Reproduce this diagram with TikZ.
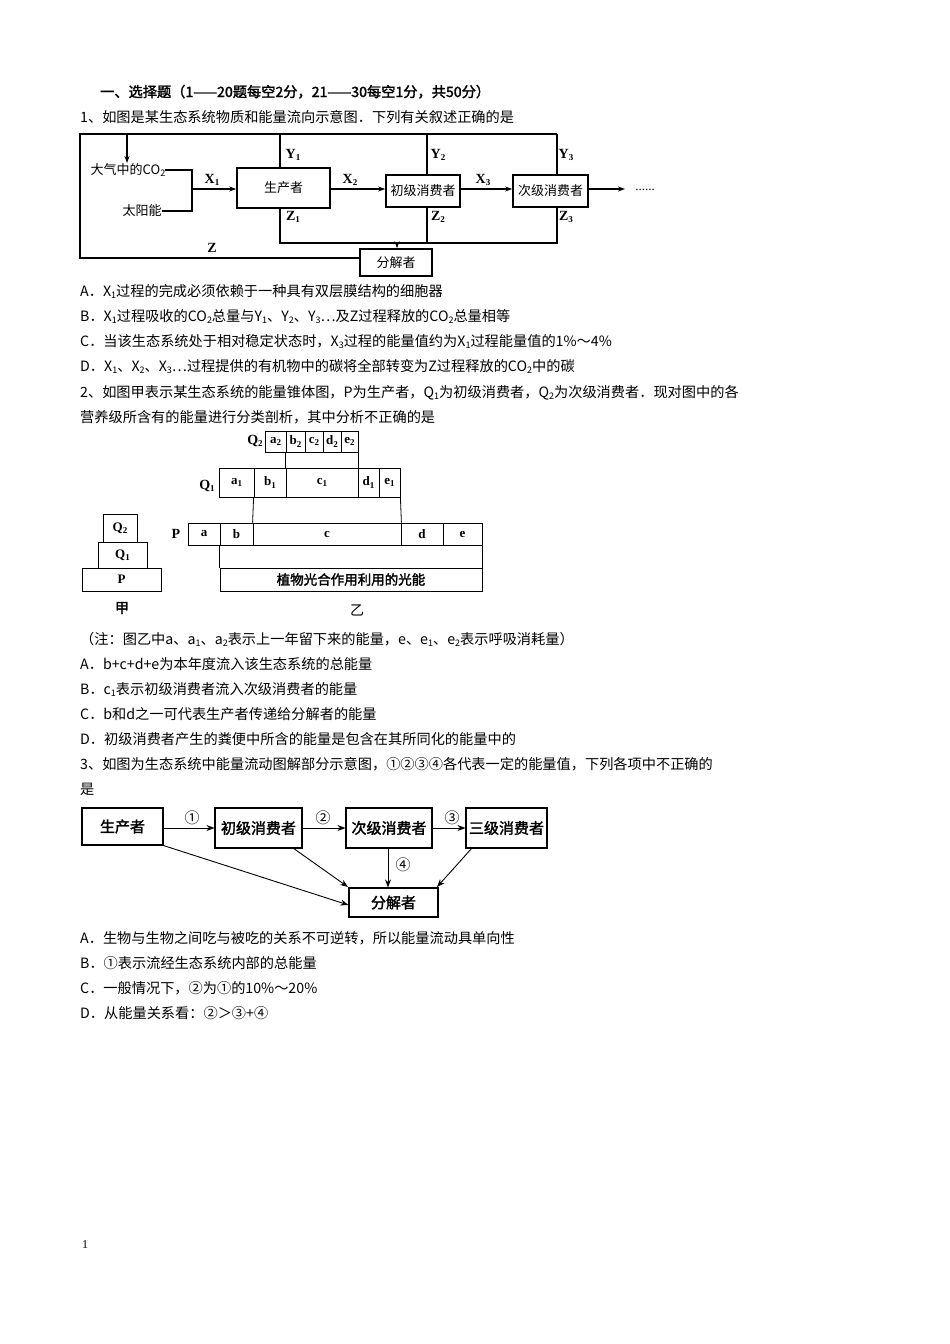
\documentclass[tikz,border=0pt]{standalone}
\usepackage{fontspec}
\usetikzlibrary{arrows.meta}
\setmainfont{Liberation Serif}
\newfontfamily\cjk[AutoFakeBold=2]{Noto Sans CJK SC}
\newcommand\mysub[1]{\raisebox{-0.35ex}{\fontsize{9}{9}\selectfont #1}}
\tikzset{
 txt/.style={anchor=base west,inner sep=0pt,font=\cjk\fontsize{14.2}{16}\selectfont},
 box/.style={draw,line width=1.6pt,inner sep=0pt},
 cell/.style={draw,line width=0.8pt,inner sep=0pt,font=\bfseries\fontsize{13}{13}\selectfont},
 lab/.style={font=\bfseries\fontsize{14}{14}\selectfont,inner sep=0pt},
 ln/.style={line width=1.3pt},
 arr/.style={line width=1.3pt,-{Stealth[length=7pt,width=5pt]}},
 arr3/.style={line width=0.9pt,-{Stealth[length=8pt,width=6pt]}},
 box3/.style={draw,line width=1.1pt,inner sep=0pt,font=\cjk\bfseries\fontsize{15}{15}\selectfont}
}
\begin{document}
\begin{tikzpicture}[x=1pt,y=-1pt]
\useasboundingbox (0,0) rectangle (950,1344);
\fill[white] (0,0) rectangle (950,1344);
\node[txt,font=\cjk\bfseries\fontsize{14.2}{16}\selectfont] (t0) at (100,97) {一、选择题（1——20题每空2分，21——30每空1分，共50分）};
\node[txt] (t1) at (80,122) {1、如图是某生态系统物质和能量流向示意图．下列有关叙述正确的是};
\node[txt] (t2) at (80,296) {A．X\mysub{1}过程的完成必须依赖于一种具有双层膜结构的细胞器};
\node[txt] (t3) at (80,321) {B．X\mysub{1}过程吸收的CO\mysub{2}总量与Y\mysub{1}、Y\mysub{2}、Y\mysub{3}…及Z过程释放的CO\mysub{2}总量相等};
\node[txt] (t4) at (80,346) {C．当该生态系统处于相对稳定状态时，X\mysub{3}过程的能量值约为X\mysub{1}过程能量值的1\%～4\%};
\node[txt] (t5) at (80,371) {D．X\mysub{1}、X\mysub{2}、X\mysub{3}…过程提供的有机物中的碳将全部转变为Z过程释放的CO\mysub{2}中的碳};
\node[txt] (t6) at (80,397) {2、如图甲表示某生态系统的能量锥体图，P为生产者，Q\mysub{1}为初级消费者，Q\mysub{2}为次级消费者．现对图中的各};
\node[txt] (t7) at (80,422) {营养级所含有的能量进行分类剖析，其中分析不正确的是};
\node[txt] (t8) at (80,644) {（注：图乙中a、a\mysub{1}、a\mysub{2}表示上一年留下来的能量，e、e\mysub{1}、e\mysub{2}表示呼吸消耗量）};
\node[txt] (t9) at (80,669) {A．b+c+d+e为本年度流入该生态系统的总能量};
\node[txt] (t10) at (80,694) {B．c\mysub{1}表示初级消费者流入次级消费者的能量};
\node[txt] (t11) at (80,719) {C．b和d之一可代表生产者传递给分解者的能量};
\node[txt] (t12) at (80,744) {D．初级消费者产生的粪便中所含的能量是包含在其所同化的能量中的};
\node[txt] (t13) at (80,769) {3、如图为生态系统中能量流动图解部分示意图，①②③④各代表一定的能量值，下列各项中不正确的};
\node[txt] (t14) at (80,794) {是};
\node[txt] (t15) at (80,943) {A．生物与生物之间吃与被吃的关系不可逆转，所以能量流动具单向性};
\node[txt] (t16) at (80,968) {B．①表示流经生态系统内部的总能量};
\node[txt] (t17) at (80,993) {C．一般情况下，②为①的10\%～20\%};
\node[txt] (t18) at (80,1018) {D．从能量关系看：②＞③+④};
\node[txt,font=\fontsize{12}{12}\selectfont] (pg) at (82,1248) {1};
\node[box,minimum width=93pt,minimum height=40pt,font=\cjk\fontsize{13}{13}\selectfont] (p) at (283.5,188) {生产者};
\node[box,minimum width=74pt,minimum height=32pt,font=\cjk\fontsize{13}{13}\selectfont] (c1) at (423,191) {初级消费者};
\node[box,minimum width=75pt,minimum height=32pt,font=\cjk\fontsize{13}{13}\selectfont] (c2) at (550.5,191) {次级消费者};
\node[box,minimum width=72pt,minimum height=27pt,font=\cjk\fontsize{13}{13}\selectfont] (dc) at (396,262.5) {分解者};
\node[inner sep=0pt,font=\cjk\fontsize{13}{13}\selectfont] (co2) at (128,170) {大气中的CO\mysub{2}};
\node[inner sep=0pt,font=\cjk\fontsize{13}{13}\selectfont] (sun) at (142,211) {太阳能};
\node[inner sep=0pt,font=\fontsize{13}{13}\selectfont] (dots) at (645,190) {......};
\coordinate (top) at (80,134);
\draw[ln] (dc.west|-0,258) -- (80,258) -- (top) -- (557,134);
\draw[arr] (127,134) -- (co2.north-|127,0);
\draw[ln] (co2.east) -- (192,170) -- (192,211) -- (sun.east);
\draw[arr] (192,189) -- (p.west|-0,189);
\draw[arr] (p.east|-0,189) -- (c1.west|-0,189);
\draw[arr] (c1.east|-0,189) -- (c2.west|-0,189);
\draw[arr] (c2.east|-0,189) -- (625,189);
\draw[ln] (280,134) -- (p.north-|280,0);
\draw[ln] (427,134) -- (c1.north-|427,0);
\draw[ln] (557,134) -- (c2.north-|557,0);
\draw[ln] (p.south-|280,0) -- (280,243) -- (557,243) -- (c2.south-|557,0);
\draw[ln] (427,243) -- (c1.south-|427,0);
\draw[arr] (397,243) -- (dc.north-|397,0);
\node[lab] (x1) at (212,180) {X\mysub{1}};
\node[lab] (x2) at (350,180) {X\mysub{2}};
\node[lab] (x3) at (483,180) {X\mysub{3}};
\node[lab] (y1) at (293,155) {Y\mysub{1}};
\node[lab] (y2) at (438,155) {Y\mysub{2}};
\node[lab] (y3) at (566,155) {Y\mysub{3}};
\node[lab] (z1) at (293,217) {Z\mysub{1}};
\node[lab] (z2) at (438,217) {Z\mysub{2}};
\node[lab] (z3) at (566,217) {Z\mysub{3}};
\node[lab] (z) at (212,248) {Z};
\node[cell,minimum width=34pt,minimum height=28pt] (jq2) at (120,528) {Q\mysub{2}};
\node[cell,minimum width=49pt,minimum height=26pt] (jq1) at (122.5,555) {Q\mysub{1}};
\node[cell,minimum width=79pt,minimum height=23pt] (jp) at (121.5,579.5) {P};
\node[inner sep=0pt,font=\cjk\bfseries\fontsize{14}{14}\selectfont] (jia) at (122,608) {甲};
\node[cell,minimum width=21pt,minimum height=21pt] (qq1) at (275.5,441.5) {a\mysub{2}};
\node[cell,minimum width=19pt,minimum height=21pt] (qq2) at (295.5,441.5) {b\mysub{2}};
\node[cell,minimum width=18pt,minimum height=21pt] (qq3) at (314,441.5) {c\mysub{2}};
\node[cell,minimum width=18pt,minimum height=21pt] (qq4) at (332,441.5) {d\mysub{2}};
\node[cell,minimum width=17pt,minimum height=21pt] (qq5) at (349.5,441.5) {e\mysub{2}};
\node[cell,minimum width=35pt,minimum height=29pt] (qa1) at (236.5,482.5) {a\mysub{1}};
\node[cell,minimum width=32pt,minimum height=29pt] (qa2) at (270,482.5) {b\mysub{1}};
\node[cell,minimum width=72pt,minimum height=29pt] (qa3) at (322,482.5) {c\mysub{1}};
\node[cell,minimum width=21pt,minimum height=29pt] (qa4) at (368.5,482.5) {d\mysub{1}};
\node[cell,minimum width=21pt,minimum height=29pt] (qa5) at (389.5,482.5) {e\mysub{1}};
\node[cell,minimum width=32pt,minimum height=22pt] (pp1) at (204,534) {a};
\node[cell,minimum width=33pt,minimum height=22pt] (pp2) at (236.5,534) {b};
\node[cell,minimum width=148pt,minimum height=22pt] (pp3) at (327,534) {c};
\node[cell,minimum width=42pt,minimum height=22pt] (pp4) at (422,534) {d};
\node[cell,minimum width=39pt,minimum height=22pt] (pp5) at (462.5,534) {e};
\node[cell,minimum width=262pt,minimum height=23pt,font=\cjk\bfseries\fontsize{13.5}{13.5}\selectfont] (light) at (351,579.5) {植物光合作用利用的光能};
\draw[line width=0.8pt] (pp2.south west) -- (light.north west);
\draw[line width=0.8pt] (pp5.south east) -- (light.north east);
\draw[line width=0.8pt] (qq2.south west) -- (qa3.north west);
\draw[line width=0.8pt] (qq5.south east) -- (qa3.north east);
\draw[line width=0.8pt] (qa2.south west) -- (pp3.north west);
\draw[line width=0.8pt] (qa5.south east) -- (pp3.north east);
\node[lab] (lq2) at (255,441) {Q\mysub{2}};
\node[lab] (lq1) at (207,486) {Q\mysub{1}};
\node[lab] (lp) at (176,534) {P};
\node[inner sep=0pt,font=\cjk\fontsize{14}{14}\selectfont] (yi) at (357,610) {乙};
\node[box3,minimum width=81pt,minimum height=37pt] (a) at (122.5,826.5) {生产者};
\node[box3,minimum width=87pt,minimum height=40pt] (b) at (258.5,828) {初级消费者};
\node[box3,minimum width=86pt,minimum height=40pt] (c) at (389,828) {次级消费者};
\node[box3,minimum width=81pt,minimum height=40pt] (d) at (506.5,828) {三级消费者};
\node[box3,minimum width=89pt,minimum height=29pt] (e) at (393.5,902.5) {分解者};
\draw[arr3] (a.east|-0,828) -- (b.west|-0,828);
\draw[arr3] (b.east|-0,828) -- (c.west|-0,828);
\draw[arr3] (c.east|-0,828) -- (d.west|-0,828);
\draw[arr3] (a.south east) -- (e.west|-0,905);
\draw[arr3] (293,848) -- (348,887);
\draw[arr3] (c.south-|388,0) -- (e.north-|388,0);
\draw[arr3] (472,848) -- (437,887);
\node[inner sep=0pt,font=\cjk\fontsize{15}{15}\selectfont] (n1) at (192,818) {①};
\node[inner sep=0pt,font=\cjk\fontsize{15}{15}\selectfont] (n2) at (323,818) {②};
\node[inner sep=0pt,font=\cjk\fontsize{15}{15}\selectfont] (n3) at (452,818) {③};
\node[inner sep=0pt,font=\cjk\fontsize{15}{15}\selectfont] (n4) at (403,865) {④};
\end{tikzpicture}
\end{document}
